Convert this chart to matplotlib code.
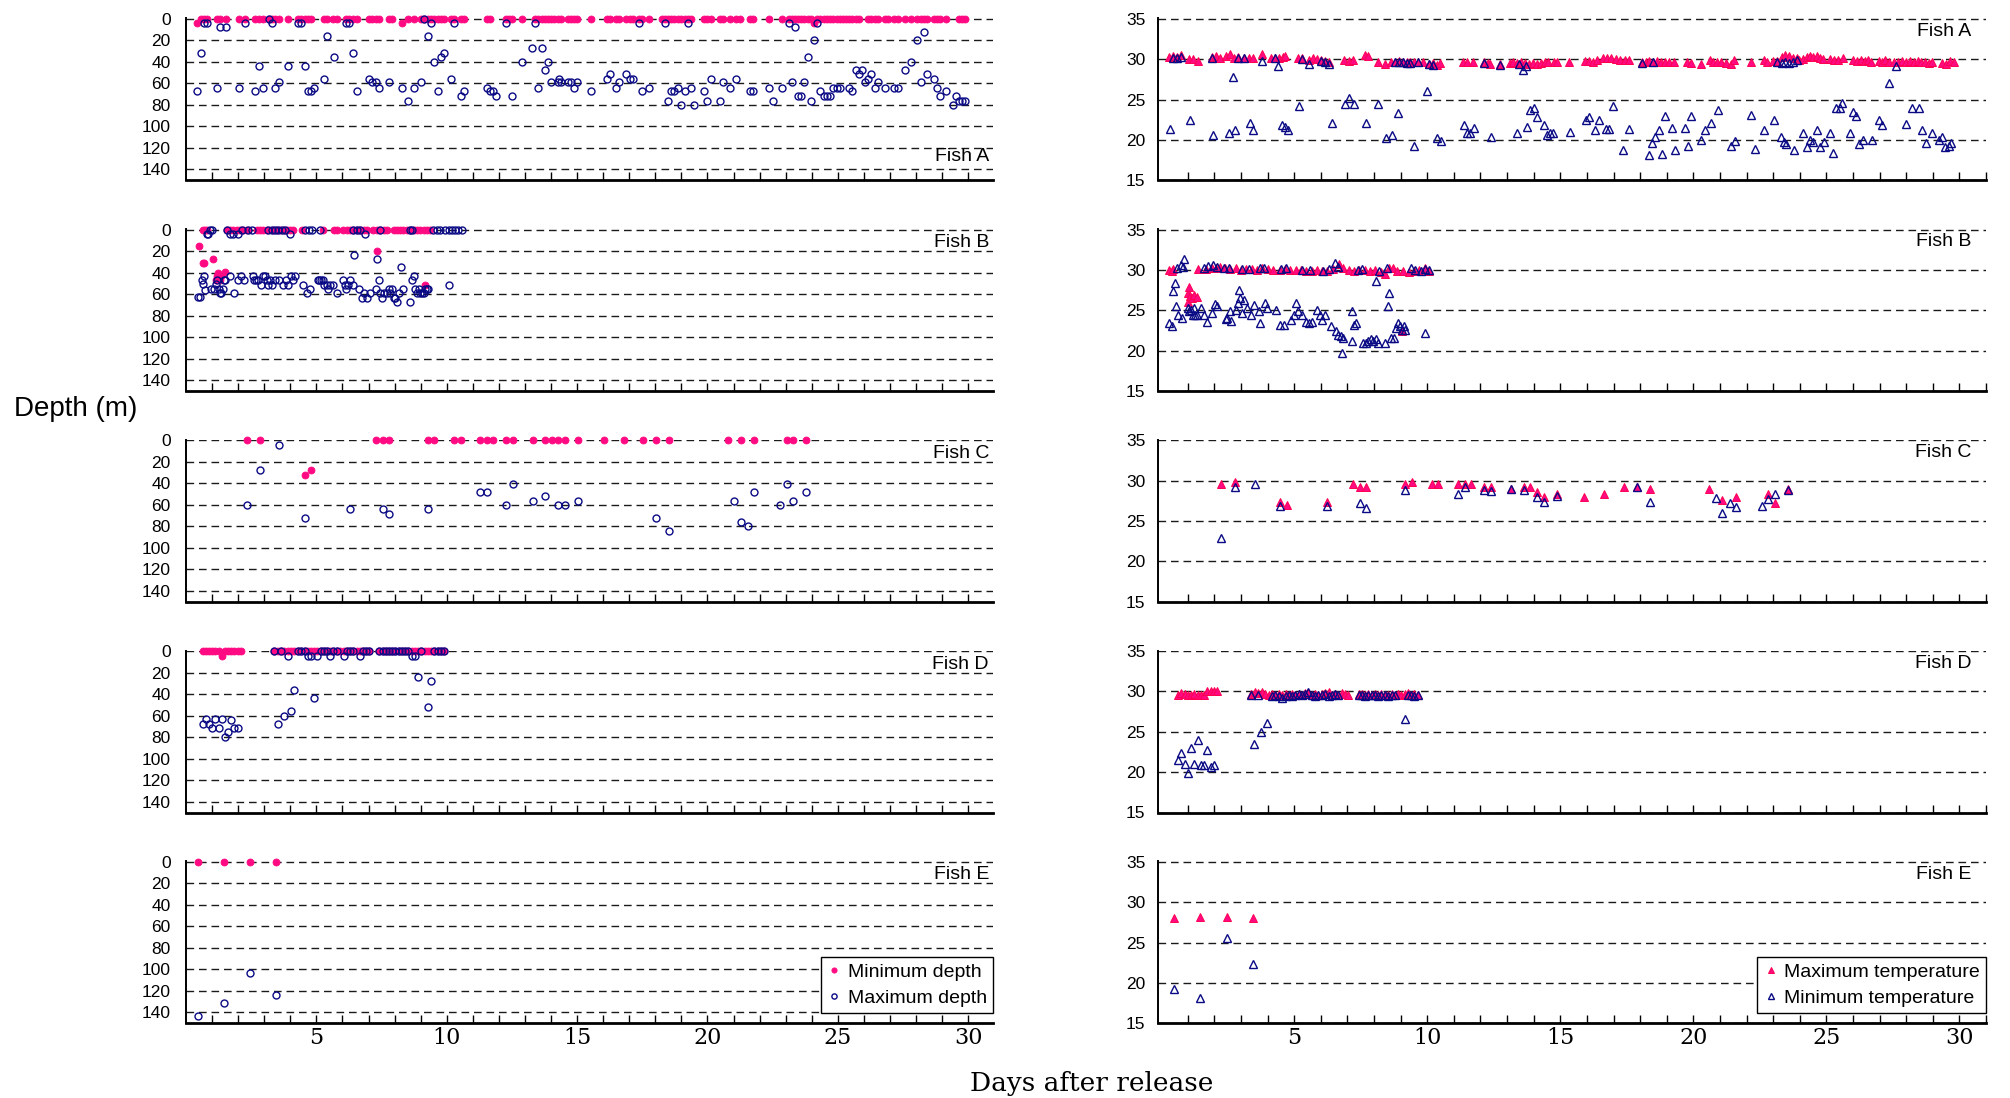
import matplotlib
matplotlib.use('Agg')
import matplotlib.pyplot as plt

# ---------------- data ----------------
fish_names = ['Fish A', 'Fish B', 'Fish C', 'Fish D', 'Fish E']
depth_ticks = [0, 20, 40, 60, 80, 100, 120, 140]
temp_ticks = [15, 20, 25, 30, 35]
day_ticks = list(range(1, 32))
day_labels = [5, 10, 15, 20, 25, 30]

# (day, depth m)
A_min_depth = [(0.44,4),(0.56,0),(0.69,0),(0.81,0),(1.18,0),(1.30,0),(1.54,0),(2.03,0),(2.28,0),(2.64,0),(2.79,0),(2.94,0),
    (3.18,0),(3.30,0),(3.43,0),(3.55,0),(3.92,0),(4.28,0),(4.41,0),(4.55,0),(4.68,0),(4.80,0),(5.29,0),(5.41,0),(5.65,0),
    (5.78,0),(6.14,0),(6.27,0),(6.41,0),(6.54,0),(7.03,0),(7.15,0),(7.27,0),(7.39,0),(7.78,0),(7.91,0),(8.27,4),(8.52,0),
    (8.76,0),(9.01,0),(9.13,0),(9.28,0),(9.40,0),(9.52,0),(9.65,0),(9.77,0),(9.89,0),(10.16,0),(10.28,0),(10.53,0),(10.65,0),
    (11.53,0),(11.65,0),(12.26,0),(12.39,0),(12.51,0),(12.90,0),(13.39,0),(13.51,0),(13.64,0),(13.76,0),(13.88,0),(14.00,0),
    (14.12,0),(14.25,0),(14.39,0),(14.64,0),(14.76,0),(14.88,0),(15.01,0),(15.52,0),(16.13,0),(16.25,0),(16.50,0),(16.62,0),
    (16.89,0),(17.01,0),(17.14,0),(17.38,0),(17.50,0),(17.75,0),(18.24,0),(18.36,0),(18.48,0),(18.60,0),(18.73,0),(18.85,0),
    (19.00,0),(19.12,0),(19.24,0),(19.36,0),(19.85,0),(19.98,0),(20.12,0),(20.49,0),(20.61,0),(20.86,0),(21.10,0),(21.25,0),
    (21.62,0),(21.74,0),(22.35,0),(22.84,0),(23.11,0),(23.23,0),(23.35,0),(23.48,0),(23.60,0),(23.72,0),(23.84,0),(23.97,0),
    (24.10,4),(24.21,0),(24.33,0),(24.46,0),(24.58,0),(24.70,0),(24.82,0),(24.95,0),(25.07,0),(25.19,0),(25.31,0),(25.43,0),
    (25.56,0),(25.68,0),(25.80,0),(26.17,0),(26.29,0),(26.41,0),(26.54,0),(26.80,0),(26.93,0),(27.17,0),(27.30,0),(27.56,0),
    (27.81,0),(28.05,0),(28.18,0),(28.30,0),(28.42,0),(28.67,0),(28.79,0),(28.91,0),(29.16,0),(29.64,0),(29.77,0),(29.89,0)]
A_max_depth = [(0.44,67),(0.56,32),(0.69,4),(0.81,4),(1.17,64),(1.30,8),(1.54,8),(2.03,64),(2.28,4),(2.64,67),(2.79,44),
    (2.94,64),(3.18,0),(3.30,4),(3.43,64),(3.55,59),(3.92,44),(4.28,4),(4.41,4),(4.55,44),(4.68,67),(4.80,67),(4.92,64),
    (5.29,56),(5.41,15.5),(5.66,35.5),(6.14,4),(6.27,4),(6.41,32),(6.54,67),(7.03,56),(7.15,59),(7.27,59),(7.39,64),(7.78,59),
    (8.27,64),(8.52,76),(8.76,64),(9.01,59),(9.13,0),(9.28,15.5),(9.40,4),(9.52,40),(9.65,67),(9.77,35.5),(9.89,32),(10.16,56),
    (10.28,4),(10.53,72),(10.65,67),(11.53,64),(11.65,67),(11.78,67),(11.90,72),(12.26,4),(12.51,72),(12.90,40),(13.27,27.5),
    (13.39,4),(13.51,64),(13.64,27.5),(13.76,48),(13.88,40),(14.00,59),(14.25,59),(14.30,56),(14.39,59),(14.64,59),(14.76,59),
    (14.88,64),(15.01,59),(15.52,67),(16.13,56),(16.25,51),(16.50,64),(16.62,59),(16.89,51),(17.01,56),(17.14,56),(17.38,4),
    (17.50,67),(17.75,64),(18.36,4),(18.48,76),(18.60,67),(18.73,67),(18.85,64),(19.00,80),(19.12,67),(19.24,4),(19.36,64),
    (19.50,80),(19.85,67),(19.98,76),(20.12,56),(20.49,76),(20.61,59),(20.86,64),(21.10,56),(21.62,67),(21.74,67),(22.35,64),
    (22.50,76),(22.84,64),(23.11,4),(23.23,59),(23.35,8),(23.48,72),(23.60,72),(23.72,59),(23.84,35.5),(23.97,76),(24.10,20),
    (24.21,4),(24.33,67),(24.46,72),(24.58,72),(24.70,72),(24.82,64),(24.95,64),(25.07,64),(25.43,64),(25.56,67),(25.68,48),
    (25.80,51),(25.92,48),(26.05,59),(26.17,56),(26.29,51),(26.41,64),(26.54,59),(26.80,64),(27.17,64),(27.30,64),(27.56,48),
    (27.81,40),(28.05,20),(28.18,59),(28.30,12),(28.42,51),(28.67,56),(28.79,64),(28.91,72),(29.16,67),(29.40,80),(29.52,72),
    (29.64,76),(29.77,76),(29.89,76)]

# (day, temperature degC)
A_max_temp = [(0.31,30.3),(0.46,30.4),(0.61,30.3),(0.75,30.5),(1.04,30.0),(1.19,30.0),(1.38,29.8),(1.91,30.3),(2.06,30.4),
    (2.20,30.2),(2.45,30.4),(2.59,30.6),(2.74,30.2),(2.88,30.3),(3.12,30.2),(3.29,30.2),(3.46,30.2),(3.78,30.6),(4.14,30.1),
    (4.29,30.2),(4.43,30.1),(4.58,30.3),(4.67,30.4),(5.16,30.2),(5.30,30.2),(5.54,29.9),(5.71,30.1),(5.86,30.0),(6.00,29.9),
    (6.15,29.8),(6.30,29.7),(6.88,29.9),(7.05,29.8),(7.20,29.9),(7.66,30.5),(7.77,30.4),(8.14,29.7),(8.43,29.4),(8.64,29.7),
    (8.79,29.7),(8.93,29.8),(9.08,29.7),(9.22,29.6),(9.37,29.7),(9.52,29.6),(9.66,29.7),(9.83,29.6),(10.07,29.4),(10.22,29.5),
    (10.36,29.3),(10.48,29.5),(11.36,29.6),(11.50,29.6),(11.72,29.6),(12.13,29.6),(12.28,29.5),(12.37,29.4),(12.74,29.4),
    (13.10,29.5),(13.24,29.6),(13.39,29.5),(13.54,29.6),(13.68,29.5),(13.83,29.4),(13.97,29.5),(14.12,29.4),(14.26,29.5),
    (14.41,29.6),(14.55,29.6),(14.75,29.7),(14.89,29.6),(15.33,29.7),(15.93,29.8),(16.08,29.8),(16.22,29.7),(16.37,29.9),
    (16.61,30.1),(16.76,30.2),(16.90,30.1),(17.09,30.0),(17.26,29.9),(17.43,29.9),(17.58,29.9),(18.06,29.7),(18.21,29.6),
    (18.35,29.8),(18.50,29.7),(18.64,29.8),(18.79,29.7),(18.93,29.6),(19.10,29.7),(19.27,29.6),(19.78,29.6),(19.90,29.5),
    (20.29,29.4),(20.61,29.9),(20.75,29.6),(20.90,29.6),(21.04,29.6),(21.21,29.5),(21.40,29.4),(21.53,29.9),(22.15,29.7),
    (22.64,29.9),(22.78,29.7),(22.98,29.8),(23.15,29.8),(23.32,30.3),(23.46,30.5),(23.61,30.4),(23.75,30.2),(23.90,30.1),
    (23.99,29.9),(24.14,30.0),(24.26,30.3),(24.38,30.4),(24.50,30.3),(24.65,30.4),(24.77,30.2),(24.89,30.0),(25.13,30.0),
    (25.28,29.9),(25.42,29.9),(25.62,30.2),(26.00,29.9),(26.15,29.8),(26.29,29.9),(26.44,29.8),(26.58,29.9),(26.68,29.7),
    (26.97,29.8),(27.09,29.7),(27.22,29.9),(27.36,29.6),(27.53,29.7),(27.70,29.6),(27.85,29.8),(27.99,29.7),(28.14,29.8),
    (28.28,29.6),(28.43,29.8),(28.57,29.6),(28.72,29.7),(28.86,29.5),(28.98,29.6),(29.34,29.5),(29.49,29.4),(29.63,29.8),
    (29.78,29.6)]
A_min_temp = [(0.34,21.4),(0.46,30.1),(0.61,30.2),(0.75,30.3),(1.07,22.5),(1.91,30.1),(1.94,20.6),(2.54,20.9),(2.71,27.8),
    (2.78,21.2),(2.88,30.1),(3.12,30.1),(3.32,22.1),(3.44,21.2),(3.80,29.8),(4.29,30.1),(4.40,29.2),(4.53,21.9),(4.65,21.6),
    (4.77,21.2),(5.18,24.2),(5.30,30.0),(5.57,29.4),(6.00,29.8),(6.15,29.6),(6.30,29.4),(6.42,22.1),(6.90,24.4),(7.07,25.2),
    (7.26,24.4),(7.68,22.1),(8.16,24.4),(8.45,20.2),(8.67,20.6),(8.79,29.6),(8.89,23.3),(8.93,29.7),(9.08,29.6),(9.22,29.5),
    (9.37,29.5),(9.52,19.2),(9.66,29.6),(10.00,26.0),(10.07,29.4),(10.22,29.3),(10.36,20.2),(10.51,19.9),(11.38,21.9),
    (11.48,20.8),(11.62,20.9),(11.74,21.5),(12.13,29.5),(12.40,20.4),(12.74,29.3),(13.37,20.9),(13.45,29.4),(13.60,28.7),
    (13.70,29.2),(13.76,21.6),(13.88,23.7),(14.00,24.0),(14.14,22.8),(14.38,21.9),(14.50,20.6),(14.62,20.8),(14.74,20.8),
    (15.35,21.0),(15.95,22.5),(16.08,22.8),(16.30,21.2),(16.46,22.5),(16.70,21.3),(16.83,21.3),(16.97,24.2),(17.34,18.7),
    (17.58,21.3),(18.06,29.5),(18.33,18.1),(18.45,19.6),(18.50,29.6),(18.57,20.4),(18.70,21.2),(18.82,18.3),(18.94,23.0),
    (19.18,21.5),(19.32,18.7),(19.68,21.5),(19.80,19.3),(19.93,23.0),(20.30,20.0),(20.43,21.2),(20.68,22.1),(20.92,23.7),
    (21.43,19.2),(21.55,19.9),(22.18,23.1),(22.30,18.9),(22.66,21.2),(23.05,22.5),(23.15,29.6),(23.30,20.4),(23.32,29.5),
    (23.40,19.7),(23.46,29.6),(23.50,19.5),(23.61,29.5),(23.75,29.7),(23.78,18.7),(23.90,29.9),(24.14,20.8),(24.27,19.1),
    (24.40,20.0),(24.50,19.7),(24.65,21.2),(24.77,19.1),(24.90,19.7),(25.13,20.9),(25.26,18.4),(25.38,24.0),(25.50,24.0),
    (25.60,24.6),(25.88,20.8),(26.00,23.5),(26.12,22.9),(26.24,19.5),(26.36,20.0),(26.73,20.0),(26.97,22.5),(27.10,21.9),
    (27.36,27.0),(27.60,29.2),(27.99,22.0),(28.23,24.0),(28.47,24.0),(28.60,21.2),(28.74,19.6),(28.98,20.8),(29.22,20.0),
    (29.35,20.4),(29.47,19.1),(29.60,19.2),(29.70,19.6)]

B_min_depth = [(0.51,15.4),(0.64,31.4),(0.69,31.4),(0.67,0),(0.73,0),(0.79,0),(1.05,27.4),(1.15,47),(1.18,43),(1.22,40),
    (1.26,43),(1.30,47),(1.34,43),(1.50,39.4),(1.56,0),(1.69,0),(1.82,0),(1.94,0),(2.07,0),(2.20,0),(2.33,0),(2.71,0),
    (2.84,0),(2.97,0),(3.10,0),(3.35,0),(3.48,0),(3.61,0),(3.74,0),(3.86,0),(3.99,0),(4.12,0),(4.44,0),(5.27,0),(5.66,0),
    (5.78,0),(6.04,0),(6.17,0),(6.30,0),(6.42,0),(6.55,0),(6.68,0),(6.81,0),(6.94,0),(7.19,0),(7.32,0),(7.34,19.7),(7.45,0),
    (7.58,0),(7.70,0),(7.96,0),(8.09,0),(8.21,0),(8.34,0),(8.47,0),(8.60,0),(8.73,0),(8.85,0),(8.98,0),(9.11,0),(9.15,51.4),
    (9.24,0),(9.37,0)]
B_max_depth = [(0.47,63),(0.54,63),(0.60,47),(0.64,50.5),(0.70,43),(0.73,56),(0.79,3.7),(0.86,3.7),(0.92,0),(0.99,0),
    (0.96,55),(1.09,55),(1.15,50.5),(1.20,47),(1.25,55),(1.30,59),(1.36,59),(1.40,55),(1.45,47),(1.50,47),(1.56,0),
    (1.69,3.7),(1.69,43),(1.82,3.7),(1.84,59),(2.00,47),(2.01,3.7),(2.11,43),(2.14,0),(2.23,47),(2.39,0),(2.52,0),(2.56,43),
    (2.61,47),(2.69,47),(2.78,47),(2.87,51),(2.94,43),(3.03,43),(3.10,47),(3.16,51),(3.16,0),(3.22,47),(3.29,51),(3.29,0),
    (3.42,47),(3.42,0),(3.54,0),(3.58,47),(3.67,0),(3.71,51),(3.80,0),(3.84,47),(3.93,51),(3.99,3.7),(4.03,43),(4.12,47),
    (4.18,43),(4.50,51),(4.57,0),(4.63,59),(4.70,0),(4.76,55),(4.82,0),(5.05,47),(5.11,47),(5.14,0),(5.18,47),(5.24,47),
    (5.30,51),(5.40,51),(5.46,55),(5.53,51),(5.63,51),(5.81,59),(6.01,47),(6.08,51),(6.14,55),(6.21,51),(6.30,47),(6.40,51),
    (6.42,0),(6.46,23.7),(6.55,0),(6.65,55),(6.68,0),(6.74,63.7),(6.83,59),(6.85,3.7),(6.94,63.7),(7.06,59),(7.29,55),
    (7.34,27.4),(7.40,47),(7.45,59),(7.45,0),(7.51,63.7),(7.60,59),(7.70,59),(7.77,55),(7.83,59),(7.89,55),(7.96,63.7),
    (8.02,63.7),(8.09,67.7),(8.15,59),(8.24,35),(8.32,55),(8.60,67.7),(8.60,0),(8.66,47),(8.66,0),(8.73,43),(8.79,55),
    (8.85,59),(8.92,55),(8.98,59),(9.05,59),(9.11,59),(9.18,55),(9.24,55),(9.30,55),(9.49,0),(9.62,0),(9.75,0),(9.94,0),
    (10.07,51),(10.07,0),(10.20,0),(10.33,0),(10.45,0),(10.58,0)]
B_max_temp = [(0.31,30.0),(0.39,29.9),(0.46,30.1),(0.99,26.0),(1.00,27.2),(1.04,27.9),(1.10,26.8),(1.15,26.5),(1.25,26.9),
    (1.36,26.7),(1.40,30.1),(1.70,30.1),(1.90,30.2),(2.05,30.3),(2.20,30.4),(2.40,30.2),(2.60,30.1),(2.80,30.2),(3.00,30.0),
    (3.20,30.1),(3.40,30.1),(3.60,30.0),(3.80,30.2),(4.00,30.1),(4.20,30.0),(4.45,30.0),(4.65,30.1),(4.85,30.0),(5.05,30.0),
    (5.25,30.0),(5.45,29.9),(5.65,29.9),(5.85,30.0),(6.05,29.9),(6.25,29.9),(6.45,30.1),(6.70,30.8),(6.85,30.2),(7.05,30.0),
    (7.25,29.9),(7.45,30.0),(7.65,30.0),(7.85,29.9),(8.05,30.0),(8.25,29.8),(8.40,29.5),(8.55,30.2),(8.70,30.3),(8.85,29.9),
    (9.05,22.4),(9.10,29.9),(9.30,29.8),(9.50,29.9),(9.70,30.0),(9.90,30.2),(10.05,29.9)]
B_min_temp = [(0.31,23.4),(0.39,23.0),(0.46,27.4),(0.51,28.4),(0.56,25.5),(0.63,24.4),(0.80,24.0),(0.87,31.3),(0.99,25.3),
    (1.04,24.9),(1.11,25.1),(1.19,24.4),(1.23,25.3),(1.28,24.4),(1.36,24.4),(1.48,25.3),(1.60,24.4),(1.72,23.6),(1.91,24.7),
    (2.01,25.8),(2.08,25.5),(2.45,23.9),(2.49,24.0),(2.57,24.9),(2.64,23.7),(2.81,25.1),(2.88,25.9),(2.93,27.5),(2.98,26.5),
    (3.05,24.7),(3.12,26.3),(3.22,25.3),(3.37,24.4),(3.49,25.6),(3.66,24.9),(3.73,23.4),(3.90,25.9),(3.97,25.3),(4.33,25.1),
    (4.46,23.2),(4.62,23.2),(4.87,23.8),(4.99,24.4),(5.06,25.9),(5.16,24.9),(5.30,24.4),(5.45,23.6),(5.54,23.4),(5.67,23.6),
    (5.84,25.1),(5.96,24.4),(6.03,23.8),(6.15,24.4),(6.39,23.0),(6.56,22.4),(6.63,22.0),(6.76,21.8),(6.80,19.7),(6.85,21.6),
    (7.17,21.2),(7.19,24.9),(7.24,23.2),(7.34,23.4),(7.58,20.9),(7.68,21.0),(7.77,21.2),(7.87,21.4),(7.97,21.2),(8.06,21.4),
    (8.09,28.6),(8.16,20.9),(8.43,20.9),(8.52,25.5),(8.57,27.1),(8.62,21.6),(8.74,21.6),(8.84,22.8),(8.91,23.4),(8.98,23.1),
    (9.06,22.6),(9.13,23.1),(9.18,22.6),(9.90,22.2),
    (0.60,30.2),(0.75,30.6),(0.82,30.4),(1.60,30.3),(1.75,30.5),(1.95,30.6),(2.10,30.4),(2.35,30.3),(2.55,30.2),(3.05,30.1),
    (3.30,30.1),(3.70,30.3),(3.85,30.2),(4.50,30.1),(4.70,30.2),(5.30,30.0),(5.60,30.0),(6.10,29.9),(6.30,30.1),(6.55,30.9),
    (6.65,30.4),(7.40,30.0),(7.55,30.1),(8.20,29.9),(8.50,30.3),(9.40,30.2),(9.55,30.0),(9.75,29.9),(9.90,30.1),(10.05,30.0)]

C_min_depth = [(2.33,0),(2.82,0),(4.55,32.2),(4.80,27.9),(7.29,0),(7.54,0),(7.78,0),(9.28,0),(9.52,0),(10.28,0),(10.53,0),
    (11.29,0),(11.53,0),(11.78,0),(12.29,0),(12.53,0),(13.29,0),(13.78,0),(14.03,0),(14.27,0),(14.54,0),(15.03,0),(16.03,0),
    (16.79,0),(17.53,0),(18.02,0),(18.53,0),(20.78,0),(21.27,0),(21.79,0),(23.04,0),(23.28,0),(23.79,0)]
C_max_depth = [(2.33,60),(2.82,27.9),(3.55,4.3),(4.55,71.8),(6.29,64.1),(7.54,64.1),(7.78,68.1),(9.28,64.1),(11.29,48),
    (11.53,48),(12.29,60),(12.53,40.3),(13.29,56),(13.78,52),(14.27,60),(14.54,60),(15.03,56),(18.02,71.8),(18.53,84.2),
    (21.03,56),(21.27,75.9),(21.54,79.9),(21.79,48),(22.79,60),(23.04,40.3),(23.28,56),(23.79,48)]
C_max_temp = [(2.25,29.6),(2.76,29.8),(4.48,27.4),(4.72,27.0),(6.25,27.4),(7.22,29.6),(7.46,29.2),(7.70,29.2),(9.18,29.6),
    (9.42,29.8),(10.17,29.6),(10.41,29.6),(11.16,29.6),(11.40,29.6),(11.65,29.6),(12.15,29.2),(12.40,29.2),(13.15,29.0),
    (13.63,29.2),(13.87,29.2),(14.12,28.6),(14.38,28.0),(14.87,28.4),(15.90,28.0),(16.63,28.3),(17.38,29.2),(17.87,29.2),
    (18.38,29.0),(20.60,29.0),(21.09,27.6),(21.60,28.0),(22.81,28.3),(23.07,27.2),(23.56,29.0)]
C_min_temp = [(2.25,22.9),(2.76,29.2),(3.51,29.6),(4.48,26.9),(6.25,26.9),(7.46,27.2),(7.70,26.6),(9.18,28.8),(11.16,28.3),
    (11.40,29.2),(12.15,28.8),(12.40,28.7),(13.15,29.0),(13.63,28.8),(14.12,28.0),(14.38,27.3),(14.87,28.1),(17.87,29.2),
    (18.38,27.3),(20.85,27.9),(21.09,26.0),(21.36,27.2),(21.60,26.7),(22.57,26.9),(22.81,27.7),(23.07,28.3),(23.56,28.8)]

D_min_depth = [(0.64,0),(0.76,0),(0.88,0),(1.00,0),(1.13,0),(1.25,0),(1.37,4.3),(1.49,0),(1.62,0),(1.74,0),(1.86,0),(1.98,0),
    (2.11,0),(3.38,0),(3.53,0),(3.65,0),(3.77,0),(3.92,0),(4.04,0),(4.16,0),(4.28,0),(4.41,0),(4.55,0),(4.68,0),(4.80,0),
    (4.92,0),(5.04,0),(5.17,0),(5.29,0),(5.41,0),(5.53,0),(5.65,0),(5.78,0),(5.90,0),(6.05,0),(6.17,0),(6.29,0),(6.41,0),
    (6.54,0),(6.66,0),(6.78,0),(6.90,0),(7.03,0),(7.42,0),(7.54,0),(7.66,0),(7.78,0),(7.91,0),(8.03,0),(8.15,0),(8.27,0),
    (8.40,0),(8.52,0),(8.67,0),(8.79,0),(8.91,0),(9.03,0),(9.16,0),(9.28,0),(9.40,0),(9.52,0),(9.65,0),(9.77,0),(9.89,0)]
D_max_depth = [(0.64,67.8),(0.76,63.2),(0.88,67.8),(1.00,71.8),(1.13,63.2),(1.25,71.8),(1.37,63.2),(1.49,80.2),(1.62,75.6),
    (1.74,64.1),(1.86,71.8),(1.98,71.8),(3.38,0),(3.53,67.8),(3.65,0),(3.77,60.1),(3.92,4.3),(4.04,55.7),(4.16,35.9),
    (4.28,0),(4.41,0),(4.55,0),(4.68,4.3),(4.80,4.3),(4.92,44),(5.04,4.3),(5.17,0),(5.29,0),(5.41,0),(5.53,4.3),(5.65,0),
    (5.78,0),(6.05,4.3),(6.17,0),(6.29,0),(6.41,0),(6.66,4.3),(6.78,0),(6.90,0),(7.03,0),(7.42,0),(7.54,0),(7.66,0),(7.78,0),
    (7.91,0),(8.03,0),(8.15,0),(8.27,0),(8.40,0),(8.52,0),(8.67,4.3),(8.79,4.3),(8.91,23.8),(9.03,0),(9.28,51.7),(9.40,27.9),
    (9.52,0),(9.65,0),(9.77,0),(9.89,0)]
D_max_temp = [(0.64,29.6),(0.76,29.8),(0.88,29.7),(1.00,29.6),(1.13,29.6),(1.25,29.7),(1.37,29.6),(1.49,29.6),(1.62,29.6),
    (1.74,30.0),(1.86,30.1),(1.98,30.0),(2.11,30.0),(3.38,29.7),(3.53,29.9),(3.65,29.8),(3.77,29.9),(3.92,29.7),(4.04,29.6),
    (4.16,29.7),(4.28,29.6),(4.41,29.7),(4.55,29.6),(4.68,29.7),(4.80,29.6),(4.92,29.7),(5.04,29.6),(5.17,29.7),(5.29,29.6),
    (5.41,29.8),(5.53,29.8),(5.65,29.6),(5.78,29.7),(5.90,29.6),(6.05,29.7),(6.17,29.8),(6.29,29.9),(6.41,29.6),(6.54,29.7),
    (6.66,29.6),(6.78,29.8),(6.90,29.7),(7.03,29.6),(7.42,29.7),(7.54,29.7),(7.66,29.6),(7.78,29.7),(7.91,29.6),(8.03,29.7),
    (8.15,29.6),(8.27,29.7),(8.40,29.6),(8.52,29.6),(8.67,29.7),(8.79,29.6),(8.91,29.7),(9.03,29.6),(9.16,29.7),(9.28,29.8),
    (9.40,29.6),(9.52,29.7),(9.65,29.6)]
D_min_temp = [(0.64,21.5),(0.76,22.4),(0.88,21.0),(1.00,19.9),(1.13,23.0),(1.25,21.0),(1.37,24.0),(1.49,20.9),(1.62,20.9),
    (1.74,22.8),(1.86,20.6),(1.98,20.9),(3.38,29.6),(3.50,23.5),(3.65,29.6),(3.74,25.0),(3.98,26.1),(4.16,29.5),(4.28,29.6),
    (4.41,29.4),(4.55,29.2),(4.68,29.5),(4.80,29.6),(4.92,29.5),(5.04,29.6),(5.17,29.7),(5.29,29.6),(5.41,29.7),(5.53,29.9),
    (5.65,29.6),(5.78,29.5),(5.90,29.6),(6.05,29.6),(6.17,29.7),(6.29,29.5),(6.41,29.6),(6.54,29.7),(6.66,29.6),(7.42,29.6),
    (7.54,29.6),(7.66,29.5),(7.78,29.6),(7.91,29.6),(8.03,29.6),(8.15,29.5),(8.27,29.6),(8.40,29.6),(8.52,29.5),(8.67,29.6),
    (8.79,29.6),(9.16,26.6),(9.28,29.6),(9.40,29.6),(9.52,29.5),(9.65,29.6)]

E_min_depth = [(0.47,0),(1.47,0),(2.47,0),(3.45,0)]
E_max_depth = [(0.47,143.7),(1.47,131.6),(2.47,103.4),(3.45,123.6)]
E_max_temp = [(0.47,28.0),(1.47,28.2),(2.47,28.2),(3.45,28.0)]
E_min_temp = [(0.47,19.2),(1.47,18.1),(2.47,25.5),(3.45,22.3)]

min_depth = [A_min_depth, B_min_depth, C_min_depth, D_min_depth, E_min_depth]
max_depth = [A_max_depth, B_max_depth, C_max_depth, D_max_depth, E_max_depth]
max_temp = [A_max_temp, B_max_temp, C_max_temp, D_max_temp, E_max_temp]
min_temp = [A_min_temp, B_min_temp, C_min_temp, D_min_temp, E_min_temp]

# ---------------- style ----------------
W, H = 2010, 1098
SANS = ['Liberation Sans', 'DejaVu Sans']
SERIF = ['DejaVu Serif']
PINK = '#FF0A82'
PINK_EDGE = '#FF0050'
NAVY = '#0A0A85'
GRID_LS = (0, (5.5, 3.5))

fig = plt.figure(figsize=(W / 100, H / 100), dpi=100)

row_tops = [18.2, 229.0, 439.7, 650.5, 861.2]
row_h = 162.0
LX0, LX1 = 186.0, 993.0
RX0, RX1 = 1158.0, 1986.0


def unpack(pairs):
    return [p[0] for p in pairs], [p[1] for p in pairs]


def style_axes(ax, yticks, bottom_row, ypad):
    for s in ('top', 'right'):
        ax.spines[s].set_visible(False)
    for s in ('left', 'bottom'):
        ax.spines[s].set_color('black')
        ax.spines[s].set_linewidth(1.4)
    ax.spines['bottom'].set_linewidth(2.0)
    ax.set_yticks(yticks)
    ax.set_yticklabels([str(t) for t in yticks], family=SANS, fontsize=12.5)
    ax.tick_params(axis='y', length=0, pad=ypad)
    ax.set_xticks(day_ticks)
    if bottom_row:
        ax.set_xticklabels([str(d) if d in day_labels else '' for d in day_ticks], family=SERIF, fontsize=16)
    else:
        ax.set_xticklabels(['' for d in day_ticks])
    ax.tick_params(axis='x', direction='in', length=6, width=1.0, pad=3)
    ax.grid(axis='y', color='#1a1a1a', linewidth=1.0, linestyle=GRID_LS)
    ax.grid(axis='x', visible=False)
    ax.set_axisbelow(True)


for i, name in enumerate(fish_names):
    top = row_tops[i]
    bottom_frac = 1 - (top + row_h) / H
    bottom_row = (i == len(fish_names) - 1)

    # ----- depth panel -----
    axL = fig.add_axes([LX0 / W, bottom_frac, (LX1 - LX0) / W, row_h / H])
    style_axes(axL, depth_ticks, bottom_row, 11)
    axL.set_xlim(0, 30.95)
    axL.set_ylim(150, -0.6)
    x, y = unpack(min_depth[i])
    axL.plot(x, y, 'o', ms=5.0, mfc=PINK, mec=PINK, mew=0.6, clip_on=False, zorder=3, label='Minimum depth')
    x, y = unpack(max_depth[i])
    axL.plot(x, y, 'o', ms=5.0, mfc='none', mec=NAVY, mew=1.0, clip_on=False, zorder=4, label='Maximum depth')
    if i == 0:
        axL.text(0.995, 0.148, name, transform=axL.transAxes, ha='right', va='center', family=SANS, fontsize=14)
    else:
        axL.text(0.995, 0.915, name, transform=axL.transAxes, ha='right', va='center', family=SANS, fontsize=14)

    # ----- temperature panel -----
    axR = fig.add_axes([RX0 / W, bottom_frac, (RX1 - RX0) / W, row_h / H])
    style_axes(axR, temp_ticks, bottom_row, 9)
    axR.set_xlim(-0.12, 31.0)
    axR.set_ylim(15, 35.08)
    x, y = unpack(max_temp[i])
    axR.plot(x, y, '^', ms=6.3, mfc=PINK, mec=PINK_EDGE, mew=0.7, clip_on=False, zorder=3, label='Maximum temperature')
    x, y = unpack(min_temp[i])
    axR.plot(x, y, '^', ms=6.3, mfc='none', mec=NAVY, mew=1.0, clip_on=False, zorder=4, label='Minimum temperature')
    axR.text(0.982, 0.92, name, transform=axR.transAxes, ha='right', va='center', family=SANS, fontsize=14)

    if bottom_row:
        for ax in (axL, axR):
            leg = ax.legend(loc='lower right', bbox_to_anchor=(1.0, 0.063), borderaxespad=0,
                            prop={'family': SANS, 'size': 14}, frameon=True, fancybox=False,
                            edgecolor='black', framealpha=1, borderpad=0.3, labelspacing=0.45,
                            handletextpad=0.3, handlelength=0.8, markerscale=0.75)
            leg.get_frame().set_linewidth(1.0)

fig.text(76 / W, 1 - 409 / H, 'Depth (m)', ha='center', va='center', family=SANS, fontsize=20)
fig.text(1092 / W, 1 - 1083 / H, 'Days after release', ha='center', va='center', family=SERIF, fontsize=19)

fig.savefig('out.png', dpi=100, facecolor='white')
